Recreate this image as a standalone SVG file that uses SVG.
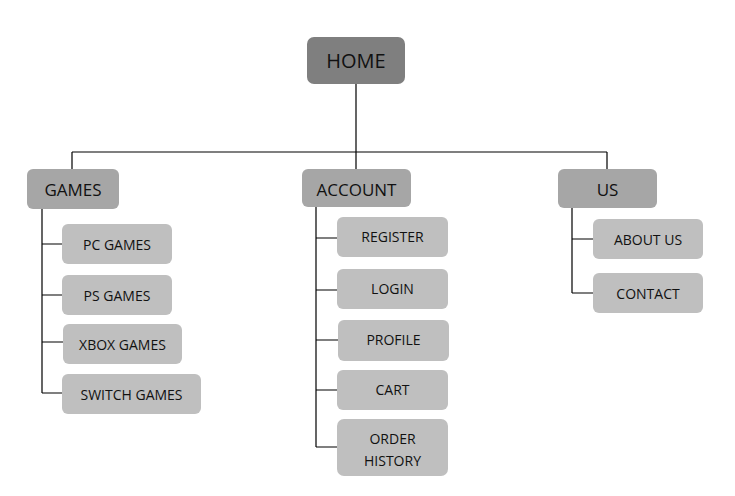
<svg xmlns="http://www.w3.org/2000/svg" width="735" height="496" viewBox="0 0 735 496">
<style>
.l1{fill:#7f7f7f}
.l2{fill:#a6a6a6}
.l3{fill:#bfbfbf}
text{font-family:"Open Sans","Liberation Sans",sans-serif;fill:#111;text-anchor:middle;dominant-baseline:central}
.t1{font-size:20px}
.t2{font-size:17px}
.t3{font-size:14px}
#connectors path{fill:none;stroke:#000;stroke-width:1.2}
</style>
<rect width="735" height="496" fill="#fff"/>
<g id="connectors">
<path d="M356 84V152M72 152H607M72 152V169M356 152V169M607 152V169"/>
<path d="M42 209V393M42 244H62M42 295H62M42 342H63M42 393H62"/>
<path d="M316 207V447M316 238H337M316 290H337M316 340H338M316 390H337M316 447H337"/>
<path d="M572 208V293M572 239H593M572 293H593"/>
</g>
<g id="home"><rect class="l1" x="307" y="37" width="98" height="47" rx="7"/><text class="t1" x="356" y="60">HOME</text></g>
<g id="games"><rect class="l2" x="27" y="169" width="92" height="40" rx="6"/><text class="t2" x="73" y="189">GAMES</text></g>
<g id="pc-games"><rect class="l3" x="62" y="224" width="110" height="40" rx="6"/><text class="t3" x="117" y="244">PC GAMES</text></g>
<g id="ps-games"><rect class="l3" x="62" y="275" width="110" height="40" rx="6"/><text class="t3" x="117" y="295">PS GAMES</text></g>
<g id="xbox-games"><rect class="l3" x="63" y="324" width="119" height="40" rx="6"/><text class="t3" x="122.5" y="344">XBOX GAMES</text></g>
<g id="switch-games"><rect class="l3" x="62" y="374" width="139" height="40" rx="6"/><text class="t3" x="131.5" y="394">SWITCH GAMES</text></g>
<g id="account"><rect class="l2" x="302" y="169" width="109" height="38" rx="6"/><text class="t2" x="356.5" y="189">ACCOUNT</text></g>
<g id="register"><rect class="l3" x="337" y="217" width="111" height="40" rx="6"/><text class="t3" x="392.5" y="236">REGISTER</text></g>
<g id="login"><rect class="l3" x="337" y="269" width="111" height="40" rx="6"/><text class="t3" x="392.5" y="288">LOGIN</text></g>
<g id="profile"><rect class="l3" x="338" y="320" width="111" height="41" rx="6"/><text class="t3" x="393.5" y="339">PROFILE</text></g>
<g id="cart"><rect class="l3" x="337" y="370" width="111" height="40" rx="6"/><text class="t3" x="392.5" y="389">CART</text></g>
<g id="order-history"><rect class="l3" x="337" y="419" width="111" height="57" rx="7"/><text class="t3" x="392.5" y="438">ORDER</text><text class="t3" x="392.5" y="460">HISTORY</text></g>
<g id="us"><rect class="l2" x="558" y="169" width="99" height="39" rx="6"/><text class="t2" x="607.5" y="189">US</text></g>
<g id="about-us"><rect class="l3" x="593" y="219" width="110" height="40" rx="6"/><text class="t3" x="648" y="239">ABOUT US</text></g>
<g id="contact"><rect class="l3" x="593" y="273" width="110" height="40" rx="6"/><text class="t3" x="648" y="293">CONTACT</text></g>
</svg>
